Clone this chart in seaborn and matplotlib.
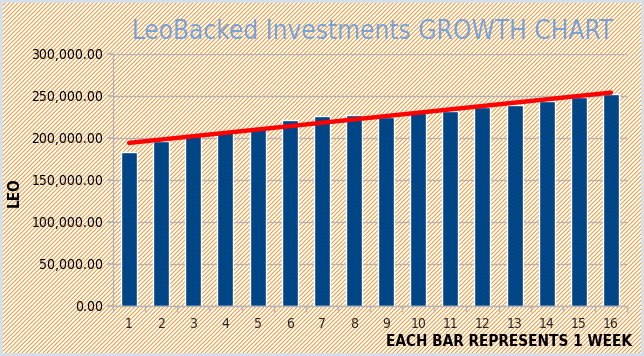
import matplotlib
matplotlib.use("Agg")
import matplotlib.pyplot as plt
import matplotlib.ticker as mticker
from matplotlib.patches import Rectangle
import pandas as pd
import seaborn as sns

# data
weeks = list(range(1, 17))
leo = [183550, 196300, 202260, 206670, 210970, 221330, 226100, 227290,
       225270, 230510, 232060, 237190, 239210, 243980, 249100, 252320]

title = "LeoBacked Investments GROWTH CHART"
x_label = "EACH BAR REPRESENTS 1 WEEK"
y_label = "LEO"

sns.set_theme(style="white")
plt.rcParams["font.family"] = ["DejaVu Sans"]
plt.rcParams["font.stretch"] = "condensed"
plt.rcParams["hatch.linewidth"] = 0.65

df = pd.DataFrame({"week": weeks, "leo": leo})

fig = plt.figure(figsize=(6.44, 3.56), dpi=100, facecolor="white")

# hatched page background
fig.patches.append(Rectangle((0, 0), 1, 1, transform=fig.transFigure,
                             facecolor="white", edgecolor="#ee8c1e", hatch="////////",
                             lw=0, zorder=-2))
fig.patches.append(Rectangle((0, 0), 1, 1, transform=fig.transFigure,
                             facecolor="none", edgecolor="#d6dee8", lw=4, zorder=-1))

ax = fig.add_axes([113 / 644, 1 - 305.7 / 356, 514 / 644, 251.7 / 356])
ax.set_facecolor("none")

sns.barplot(data=df, x="week", y="leo", native_scale=True, width=0.5,
            color="#004586", saturation=1, ax=ax, zorder=2)
sns.regplot(data=df, x="week", y="leo", scatter=False, ci=None, truncate=True,
            color="#ff0000", line_kws={"lw": 3.2, "zorder": 3}, ax=ax)

ax.set_xlim(0.5, 16.5)
ax.set_ylim(0, 300000)
ax.set_yticks(range(0, 300001, 50000))
ax.yaxis.set_major_formatter(mticker.FuncFormatter(lambda v, p: f"{v:,.2f}"))
ax.set_xticks(weeks)
ax.set_xticks([w - 0.5 for w in weeks] + [16.5], minor=True)

ax.grid(axis="y", color="#b3b3b3", lw=1, zorder=0)
ax.grid(axis="x", visible=False)
for s in ["top", "right"]:
    ax.spines[s].set_visible(False)
for s in ["left", "bottom"]:
    ax.spines[s].set_color("#b3b3b3")
    ax.spines[s].set_linewidth(1)

ax.tick_params(axis="y", which="major", length=4, color="#b3b3b3", labelsize=10,
               labelcolor="black", pad=3, left=True)
ax.tick_params(axis="x", which="major", length=0, labelsize=10, pad=8)
ax.tick_params(axis="x", which="minor", length=4, color="#b3b3b3", bottom=True)

ax.set_xlabel("")
ax.set_ylabel("")
fig.text(632 / 644, 1 - 341 / 356, x_label, ha="right", va="center",
         fontsize=11, fontweight="bold", color="black")
fig.text(14 / 644, 1 - 192 / 356, y_label, ha="center", va="center",
         rotation=90, fontsize=11, fontweight="bold", color="black")
fig.text(373 / 644, 1 - 32 / 356, title, ha="center", va="center",
         fontsize=18.8, color="#79a2d6")

fig.savefig("out.png", dpi=100, facecolor=fig.get_facecolor())
